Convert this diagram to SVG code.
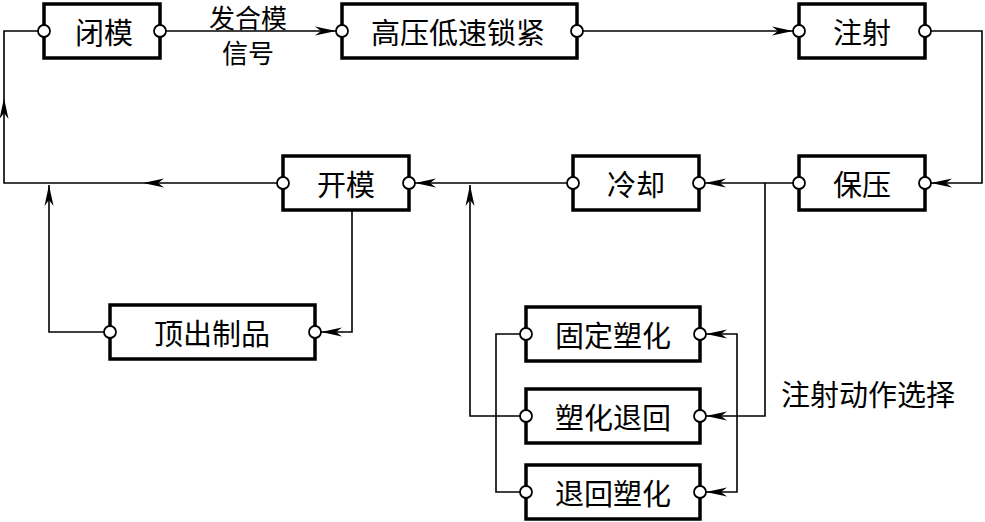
<svg xmlns="http://www.w3.org/2000/svg" width="985" height="522" viewBox="0 0 985 522">
<style>
.box{fill:#fff;stroke:#000;stroke-width:3.5}
.pin{fill:#fff;stroke:#000;stroke-width:1.8}
.ln{fill:none;stroke:#000;stroke-width:1.6}
.arr{fill:none;stroke:#000;stroke-width:1.6;marker-end:url(#ah)}
text{font-family:"Noto Sans CJK SC","Noto Sans",sans-serif;font-size:29px;fill:#000;text-anchor:middle;dominant-baseline:central}
.lbl{font-size:26px}
</style>
<defs>
<marker id="ah" markerUnits="userSpaceOnUse" markerWidth="24" markerHeight="12" viewBox="-22 -6 24 12" refX="0" refY="0" orient="auto" overflow="visible">
<path d="M0,0 L-21,-4.5 L-15,0 L-21,4.5 Z" fill="#000"/>
</marker>
</defs>
<rect width="985" height="522" fill="#fff"/>
<g id="connectors">
<path class="arr" d="M160,31 H336"/>
<path class="arr" d="M577,31 H793"/>
<path class="arr" d="M925,31 H982 V183 H931"/>
<path class="arr" d="M799,183 H705"/>
<path class="arr" d="M573,183 H415"/>
<path class="arr" d="M283,183 H143"/>
<path class="arr" d="M143,183 H4 V98"/>
<path class="ln" d="M4,98 V31 H44"/>
<path class="arr" d="M352,210 V332 H321"/>
<path class="arr" d="M110,332 H49 V185"/>
<path class="arr" d="M765,183 V416 H706"/>
<path class="arr" d="M737,416 V334 H706"/>
<path class="arr" d="M737,416 V492 H706"/>
<path class="arr" d="M526,416 H470 V185"/>
<path class="ln" d="M526,334 H496 V492 H526"/>
</g>
<g id="edge-label">
<text class="lbl" x="248" y="16">发合模</text>
<text class="lbl" x="248" y="51">信号</text>
</g>
<g id="n-bimo">
<rect class="box" x="44" y="4" width="116" height="54"/>
<circle class="pin" cx="44" cy="31" r="6"/><circle class="pin" cx="160" cy="31" r="6"/>
<text x="104" y="31">闭模</text>
</g>
<g id="n-suojin">
<rect class="box" x="342" y="4" width="235" height="54"/>
<circle class="pin" cx="342" cy="31" r="6"/><circle class="pin" cx="577" cy="31" r="6"/>
<text x="458" y="31">高压低速锁紧</text>
</g>
<g id="n-zhushe">
<rect class="box" x="799" y="4" width="126" height="54"/>
<circle class="pin" cx="799" cy="31" r="6"/><circle class="pin" cx="925" cy="31" r="6"/>
<text x="862" y="31">注射</text>
</g>
<g id="n-baoya">
<rect class="box" x="799" y="156" width="126" height="54"/>
<circle class="pin" cx="799" cy="183" r="6"/><circle class="pin" cx="925" cy="183" r="6"/>
<text x="862" y="183">保压</text>
</g>
<g id="n-lengque">
<rect class="box" x="573" y="156" width="126" height="54"/>
<circle class="pin" cx="573" cy="183" r="6"/><circle class="pin" cx="699" cy="183" r="6"/>
<text x="636" y="183">冷却</text>
</g>
<g id="n-kaimo">
<rect class="box" x="283" y="156" width="126" height="54"/>
<circle class="pin" cx="283" cy="183" r="6"/><circle class="pin" cx="409" cy="183" r="6"/>
<text x="346" y="183">开模</text>
</g>
<g id="n-dingchu">
<rect class="box" x="110" y="305" width="205" height="54"/>
<circle class="pin" cx="110" cy="332" r="6"/><circle class="pin" cx="315" cy="332" r="6"/>
<text x="212" y="332">顶出制品</text>
</g>
<g id="n-guding">
<rect class="box" x="526" y="307" width="174" height="54"/>
<circle class="pin" cx="526" cy="334" r="6"/><circle class="pin" cx="700" cy="334" r="6"/>
<text x="613" y="334">固定塑化</text>
</g>
<g id="n-suhuatuihui">
<rect class="box" x="526" y="389" width="174" height="54"/>
<circle class="pin" cx="526" cy="416" r="6"/><circle class="pin" cx="700" cy="416" r="6"/>
<text x="613" y="416">塑化退回</text>
</g>
<g id="n-tuihuisuhua">
<rect class="box" x="526" y="465" width="174" height="54"/>
<circle class="pin" cx="526" cy="492" r="6"/><circle class="pin" cx="700" cy="492" r="6"/>
<text x="613" y="492">退回塑化</text>
</g>
<g id="label-select">
<text x="868" y="393">注射动作选择</text>
</g>
</svg>
